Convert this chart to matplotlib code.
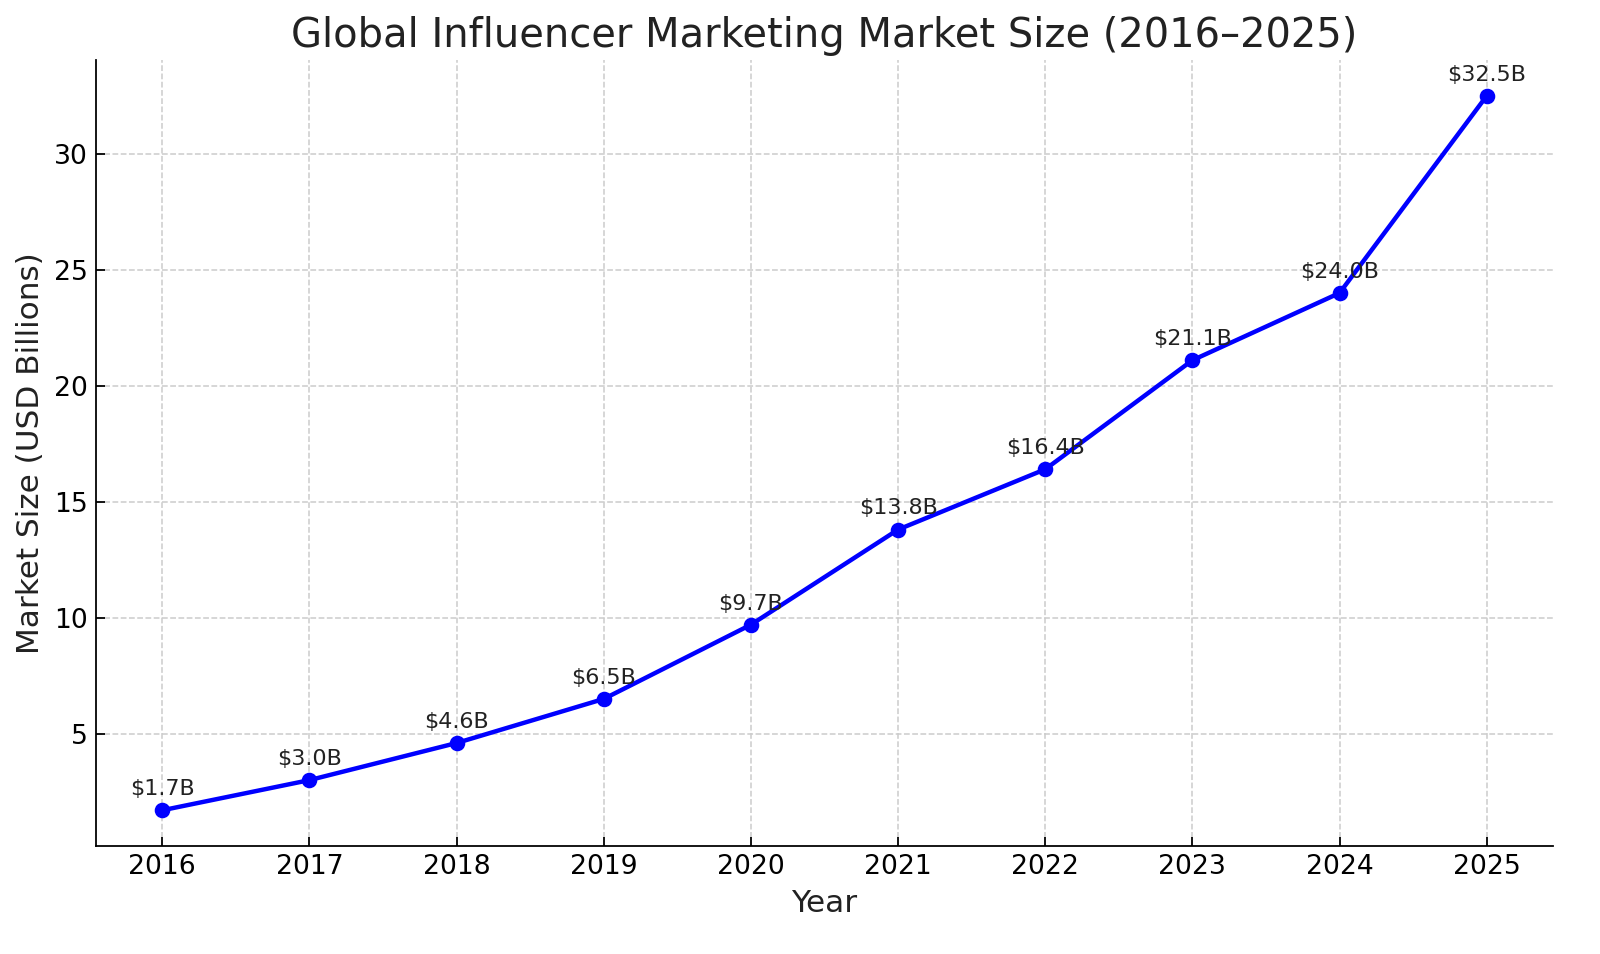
import matplotlib.pyplot as plt

# Data
years = [2016, 2017, 2018, 2019, 2020, 2021, 2022, 2023, 2024, 2025]
market_size = [1.7, 3.0, 4.6, 6.5, 9.7, 13.8, 16.4, 21.1, 24.0, 32.5]
value_labels = ["$1.7B", "$3.0B", "$4.6B", "$6.5B", "$9.7B",
                "$13.8B", "$16.4B", "$21.1B", "$24.0B", "$32.5B"]

fig = plt.figure(figsize=(10, 5.9625), dpi=160)
ax = fig.add_axes([0.06, 0.1132, 0.9106, 0.8238])

ax.plot(years, market_size, color="blue", linewidth=2, marker="o", markersize=6)

# Value annotations above each point
for x, y, label in zip(years, market_size, value_labels):
    ax.annotate(label, (x, y), textcoords="offset points", xytext=(0, 5),
                ha="center", va="bottom", fontsize=10, color="#222222")

ax.set_title("Global Influencer Marketing Market Size (2016\u20132025)",
             fontsize=18, color="#222222")
ax.set_xlabel("Year", fontsize=14, color="#222222")
ax.set_ylabel("Market Size (USD Billions)", fontsize=14, color="#222222")
ax.set_xticks(years)
ax.set_yticks([5, 10, 15, 20, 25, 30])
ax.tick_params(direction="in", labelsize=12, length=4)

ax.grid(True, linestyle="--", color="#cccccc", linewidth=0.7)
ax.spines["top"].set_visible(False)
ax.spines["right"].set_visible(False)

fig.savefig("out.png", dpi=160)
